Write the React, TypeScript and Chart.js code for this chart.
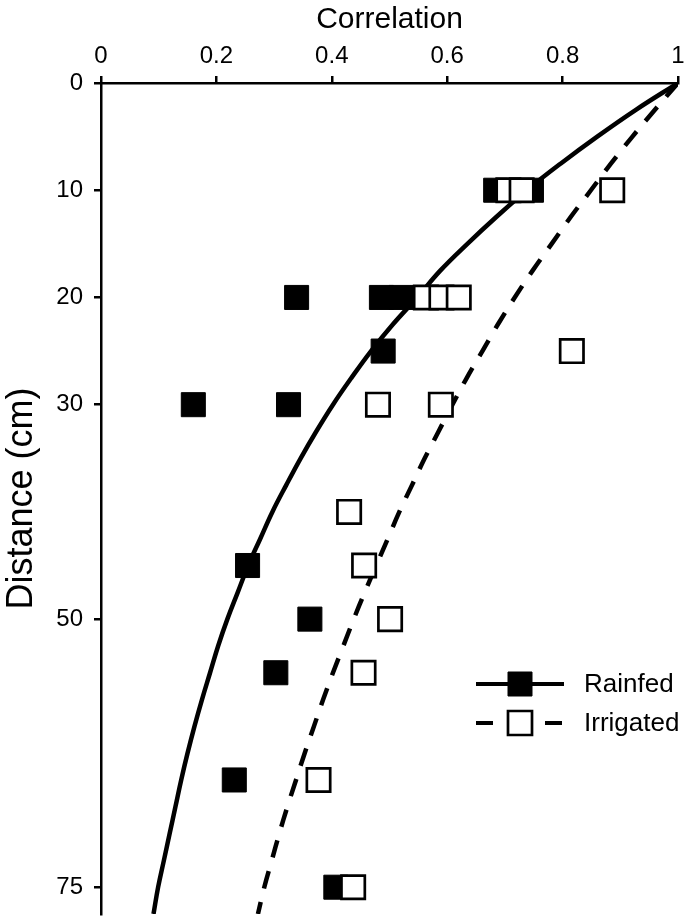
import React, { useEffect, useRef } from 'react';
import { Chart, registerables } from 'chart.js';

Chart.register(...registerables);

// Observed points: distance (cm) and correlation
const rainfedDist = [10, 10, 20, 20, 20, 25, 30, 30, 45, 50, 55, 65, 75];
const rainfedCorr = [0.684, 0.746, 0.339, 0.486, 0.52, 0.489, 0.16, 0.325, 0.254, 0.362, 0.303, 0.231, 0.407];

const irrigatedDist = [10, 10, 10, 20, 20, 20, 25, 30, 30, 40, 45, 50, 55, 65, 75];
const irrigatedCorr = [0.706, 0.729, 0.886, 0.563, 0.59, 0.62, 0.816, 0.48, 0.589, 0.43, 0.456, 0.501, 0.455, 0.377, 0.437];

// Fitted curves
const curveDist = [0, 2.5, 5, 7.5, 10, 12.5, 15, 17.5, 20, 22.5, 25, 27.5, 30, 32.5, 35, 37.5, 40, 42.5, 45, 47.5, 50, 52.5, 55, 57.5, 60, 62.5, 65, 67.5, 70, 72.5, 75, 77.5];
const rainfedFit = [1.0, 0.927, 0.86, 0.797, 0.738, 0.685, 0.635, 0.588, 0.548, 0.506, 0.468, 0.434, 0.402, 0.373, 0.346, 0.321, 0.297, 0.276, 0.255, 0.237, 0.219, 0.203, 0.189, 0.175, 0.162, 0.15, 0.139, 0.129, 0.119, 0.109, 0.099, 0.091];
const irrigatedFit = [1.0, 0.96, 0.921, 0.884, 0.849, 0.814, 0.781, 0.748, 0.717, 0.688, 0.661, 0.634, 0.609, 0.585, 0.561, 0.539, 0.517, 0.497, 0.477, 0.457, 0.438, 0.42, 0.402, 0.385, 0.369, 0.353, 0.338, 0.323, 0.309, 0.296, 0.283, 0.272];

const correlationTicks = [0, 0.2, 0.4, 0.6, 0.8, 1];
const distanceTicks = [0, 10, 20, 30, 50, 75];

const seriesNames = ['Rainfed', 'Irrigated'];

const FONT = "'Liberation Sans', Arial, Helvetica, sans-serif";

const legendPlugin = {
  id: 'customLegend',
  afterDraw(chart: any) {
    const ctx = chart.ctx as CanvasRenderingContext2D;
    const rows = [
      { label: seriesNames[0], y: 684, dashed: false, filled: true },
      { label: seriesNames[1], y: 723, dashed: true, filled: false },
    ];
    ctx.save();
    rows.forEach((r) => {
      ctx.strokeStyle = '#000';
      ctx.lineWidth = 4;
      ctx.lineCap = 'butt';
      ctx.beginPath();
      if (r.dashed) {
        ctx.moveTo(476, r.y);
        ctx.lineTo(493, r.y);
        ctx.moveTo(545, r.y);
        ctx.lineTo(562, r.y);
      } else {
        ctx.moveTo(476, r.y);
        ctx.lineTo(564, r.y);
      }
      ctx.stroke();
      const s = 24;
      ctx.beginPath();
      ctx.rect(520 - s / 2, r.y - s / 2, s, s);
      ctx.fillStyle = r.filled ? '#000' : '#fff';
      ctx.fill();
      ctx.lineWidth = r.filled ? 1 : 2.7;
      ctx.stroke();
      ctx.fillStyle = '#000';
      ctx.font = `26px ${FONT}`;
      ctx.textAlign = 'left';
      ctx.textBaseline = 'middle';
      ctx.fillText(r.label, 584, r.y + 1);
    });
    ctx.restore();
  },
};

export default function App() {
  const ref = useRef<HTMLCanvasElement | null>(null);

  useEffect(() => {
    document.body.style.margin = '0';
    const canvas = ref.current;
    if (!canvas) return;

    const axisGrid = {
      display: true,
      drawOnChartArea: false,
      drawTicks: true,
      tickLength: 7,
      color: '#000',
      lineWidth: 2.5,
    };

    const chart = new Chart(canvas, {
      type: 'scatter',
      data: {
        datasets: [
          {
            label: seriesNames[1],
            data: irrigatedDist.map((d, i) => ({ x: irrigatedCorr[i], y: d })),
            pointStyle: 'rect',
            pointRadius: 16.5,
            backgroundColor: '#fff',
            borderColor: '#000',
            borderWidth: 2.7,
            order: 0,
          },
          {
            label: seriesNames[0],
            data: rainfedDist.map((d, i) => ({ x: rainfedCorr[i], y: d })),
            pointStyle: 'rect',
            pointRadius: 17,
            backgroundColor: '#000',
            borderColor: '#000',
            borderWidth: 1,
            order: 1,
          },
          {
            label: seriesNames[0] + ' fit',
            data: curveDist.map((d, i) => ({ x: rainfedFit[i], y: d })),
            showLine: true,
            pointRadius: 0,
            borderColor: '#000',
            borderWidth: 4.5,
            tension: 0.4,
            fill: false,
            order: 2,
          },
          {
            label: seriesNames[1] + ' fit',
            data: curveDist.map((d, i) => ({ x: irrigatedFit[i], y: d })),
            showLine: true,
            pointRadius: 0,
            borderColor: '#000',
            borderWidth: 4.5,
            borderDash: [18, 14],
            tension: 0.4,
            fill: false,
            order: 3,
          },
        ],
      },
      options: {
        animation: false,
        responsive: false,
        maintainAspectRatio: false,
        layout: { autoPadding: false, padding: { left: 0, right: 7, top: 0, bottom: 2 } },
        plugins: {
          legend: { display: false },
          tooltip: { enabled: false },
        },
        scales: {
          x: {
            type: 'linear',
            position: 'top',
            min: 0,
            max: 1,
            afterBuildTicks: (scale: any) => {
              scale.ticks = correlationTicks.map((v) => ({ value: v }));
            },
            afterFit: (scale: any) => {
              scale.height = 83;
              scale.paddingLeft = 0;
              scale.paddingRight = 0;
            },
            ticks: {
              color: '#000',
              font: { family: FONT, size: 24 },
              padding: 5,
              maxRotation: 0,
              callback: (v: any) => String(v),
            },
            grid: axisGrid,
            border: { display: true, color: '#000', width: 2.5 },
            title: {
              display: true,
              text: 'Correlation',
              color: '#000',
              font: { family: FONT, size: 30 },
              padding: { top: 2, bottom: 0 },
            },
          },
          y: {
            type: 'linear',
            position: 'left',
            reverse: true,
            min: 0,
            max: 77.5,
            afterBuildTicks: (scale: any) => {
              scale.ticks = distanceTicks.map((v) => ({ value: v }));
            },
            afterFit: (scale: any) => {
              scale.width = 101;
              scale.paddingTop = 0;
              scale.paddingBottom = 0;
            },
            ticks: {
              color: '#000',
              font: { family: FONT, size: 24 },
              padding: 11,
              callback: (v: any) => String(v),
            },
            grid: axisGrid,
            border: { display: true, color: '#000', width: 2.5 },
            title: {
              display: true,
              text: 'Distance (cm)',
              color: '#000',
              font: { family: FONT, size: 36 },
              padding: { top: 0, bottom: 0 },
            },
          },
        },
      },
      plugins: [legendPlugin],
    } as any);

    return () => chart.destroy();
  }, []);

  return (
    <div style={{ position: 'absolute', left: 0, top: 0, width: 685, height: 916 }}>
      <canvas ref={ref} width={685} height={916} style={{ display: 'block' }} />
    </div>
  );
}
